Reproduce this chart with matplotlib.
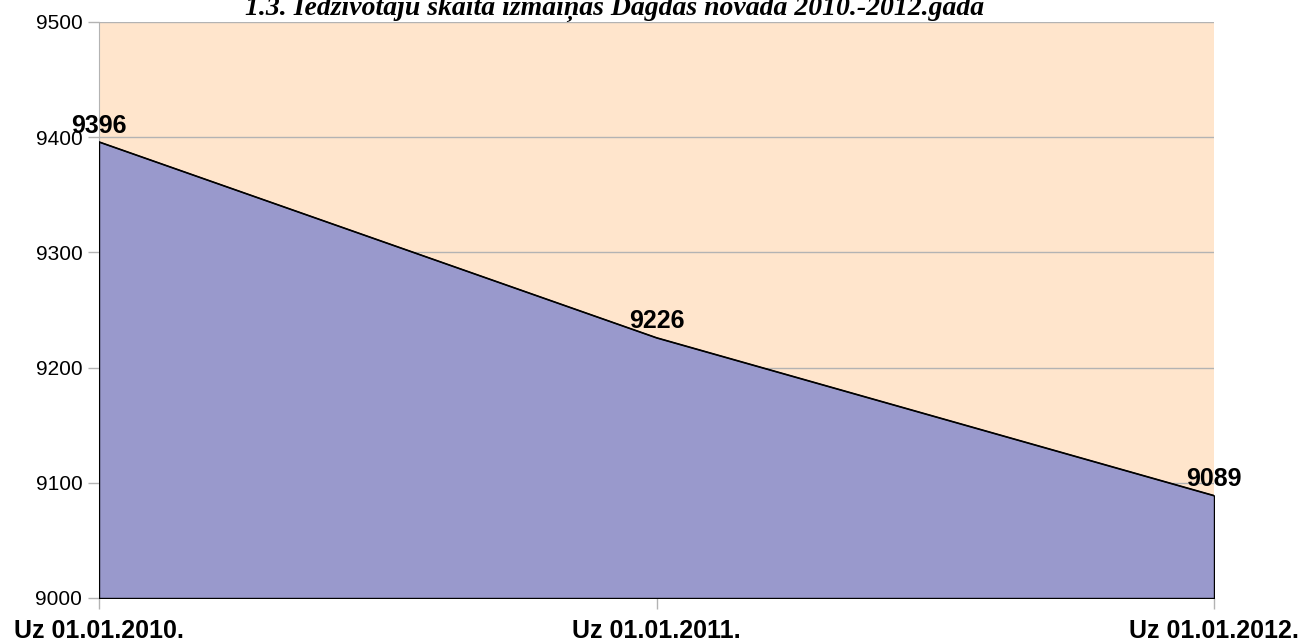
import matplotlib.pyplot as plt

dates = ['Uz 01.01.2010.', 'Uz 01.01.2011.', 'Uz 01.01.2012.']
population = [9396, 9226, 9089]
yticks = [9000, 9100, 9200, 9300, 9400, 9500]
title = '1.3. Iedzīvotāju skaita izmaiņas Dagdas novadā 2010.-2012.gadā'


def main():
    plt.rcParams['font.family'] = ['Liberation Sans', 'DejaVu Sans']
    fig = plt.figure(figsize=(13.02, 6.44), dpi=100)
    ax = fig.add_axes([99 / 1302, 1 - 598 / 644, 1115 / 1302, 576 / 644])
    x = list(range(len(dates)))

    ax.set_facecolor('#FFE5CC')
    ax.fill_between(x, population, 9000, facecolor='#9999CC',
                    edgecolor='black', linewidth=1, zorder=3)
    ax.plot(x, population, color='black', linewidth=1, zorder=4)

    ax.set_xlim(0, len(dates) - 1)
    ax.set_ylim(9000, 9500)
    ax.set_yticks(yticks)
    ax.set_yticklabels([str(v) for v in yticks], fontsize=15)
    ax.set_xticks(x)
    ax.set_xticklabels(dates, fontsize=18, fontweight='bold')
    ax.grid(axis='y', color='#B3B3B3', linewidth=1, zorder=1)
    ax.set_axisbelow(True)
    for side in ['top', 'right', 'bottom']:
        ax.spines[side].set_visible(False)
    ax.spines['left'].set_color('#B3B3B3')
    ax.tick_params(axis='both', color='#B3B3B3', length=8, width=1)
    ax.tick_params(axis='x', pad=7)
    ax.tick_params(axis='y', pad=4)

    for xi, v in zip(x, population):
        ax.annotate(str(v), (xi, v), xytext=(0, 3), textcoords='offset points',
                    ha='center', va='bottom', fontsize=18, fontweight='bold',
                    zorder=5, annotation_clip=False)

    fig.text(615 / 1302, 1 - 9 / 644, title, ha='center', va='center',
             fontsize=20, fontweight='bold', fontstyle='italic',
             family=['Liberation Serif', 'DejaVu Serif'])
    fig.savefig('out.png', dpi=100)


if __name__ == "__main__":
    main()
